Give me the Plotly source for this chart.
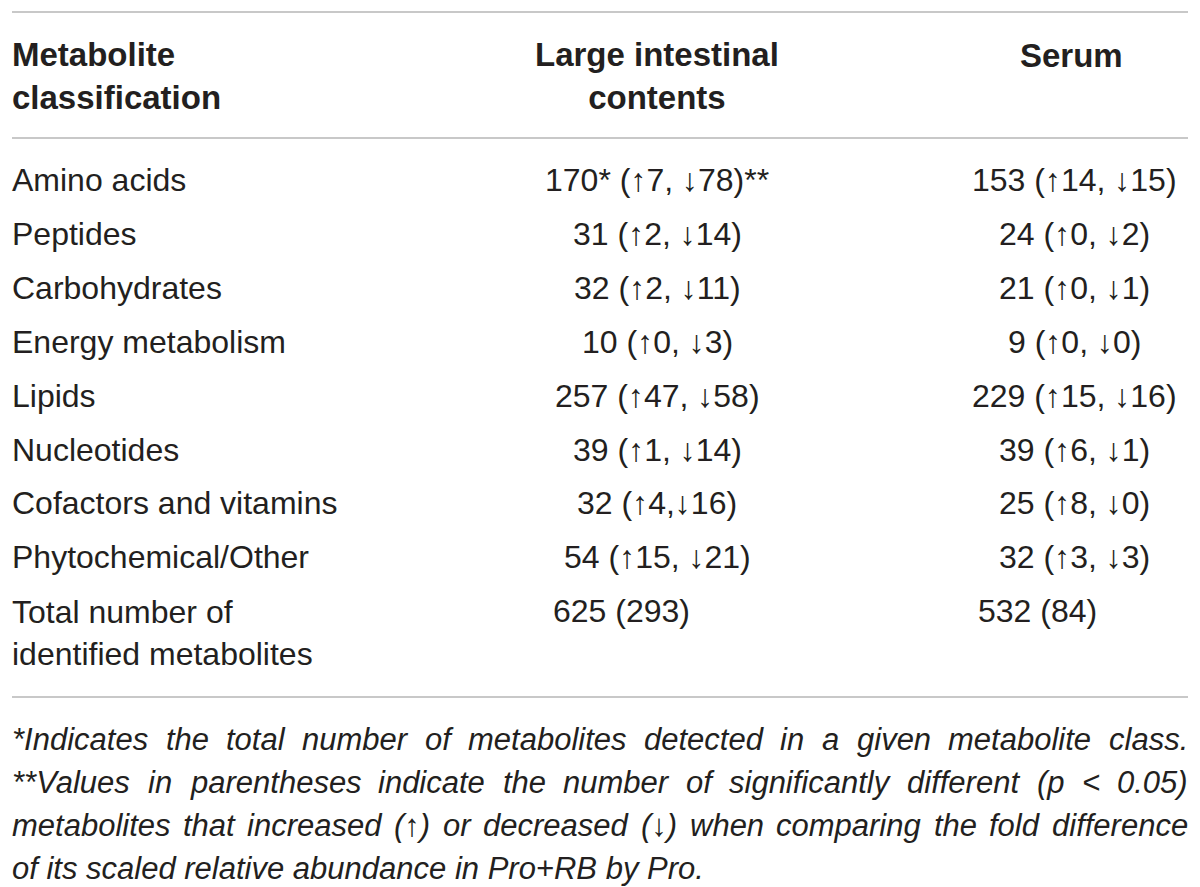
import plotly.graph_objects as go

# table content
header_cols = ["Metabolite<br>classification", "Large intestinal<br>contents", "Serum"]
classes = [
    "Amino acids",
    "Peptides",
    "Carbohydrates",
    "Energy metabolism",
    "Lipids",
    "Nucleotides",
    "Cofactors and vitamins",
    "Phytochemical/Other",
]
intestinal = [
    "170* (↑7, ↓78)**",
    "31 (↑2, ↓14)",
    "32 (↑2, ↓11)",
    "10 (↑0, ↓3)",
    "257 (↑47, ↓58)",
    "39 (↑1, ↓14)",
    "32 (↑4,↓16)",
    "54 (↑15, ↓21)",
]
serum = [
    "153 (↑14, ↓15)",
    "24 (↑0, ↓2)",
    "21 (↑0, ↓1)",
    "9 (↑0, ↓0)",
    "229 (↑15, ↓16)",
    "39 (↑6, ↓1)",
    "25 (↑8, ↓0)",
    "32 (↑3, ↓3)",
]
total_label = "Total number of<br>identified metabolites"
total_intestinal = "625 (293)"
total_serum = "532 (84)"
footnotes = [
    "*Indicates the total number of metabolites detected in a given metabolite class.",
    "**Values in parentheses indicate the number of significantly different (p < 0.05)",
    "metabolites that increased (↑) or decreased (↓) when comparing the fold difference",
    "of its scaled relative abundance in Pro+RB by Pro.",
]

W, H = 1200, 887
OFF = 8  # browser body margin
TXT = "#231f20"
RULE = "#c8c8c8"
FONT = "Liberation Sans, Arial, sans-serif"
FS = 32
FS_HEAD = 33
FS_NOTE = 31

X_LEFT, X_MID, X_RIGHT = 12, 657, 1074
X_END = 1188
ROW0, ROW_STEP = 180, 53.9
NOTE0, NOTE_STEP = 739, 43

# Arial advance widths (per 1000 em) used to justify the footnote lines
WIDTHS = {" ": 278, "(": 333, ")": 333, "*": 389, "+": 584, ",": 278, ".": 278,
          "<": 584, "↑": 500, "↓": 500, "I": 278, "V": 667, "P": 667, "R": 722,
          "B": 667, "c": 500, "f": 278, "i": 222, "j": 222, "k": 500, "l": 222,
          "m": 833, "r": 333, "s": 500, "t": 278, "v": 500, "w": 722, "x": 500,
          "y": 500, "z": 500}


def text_width(s, size):
    return sum(WIDTHS.get(ch, 556) for ch in s) * size / 1000.0


fig = go.Figure()
fig.add_trace(go.Scatter(x=[OFF, W], y=[OFF, H], mode="markers", marker=dict(opacity=0),
                         hoverinfo="skip", showlegend=False))

ann = []


def add_text(x, y, text, anchor="left", bold=False, italic=False, size=FS):
    t = text
    if bold:
        t = "<b>" + t + "</b>"
    if italic:
        t = "<i>" + t + "</i>"
    ann.append(dict(x=x, y=y, text=t, xref="x", yref="y", showarrow=False,
                    xanchor=anchor, yanchor="middle", align=anchor,
                    borderpad=0, borderwidth=0,
                    font=dict(family=FONT, size=size, color=TXT)))


# header
add_text(X_LEFT, 76, header_cols[0], "left", bold=True, size=FS_HEAD)
add_text(X_MID, 76, header_cols[1], "center", bold=True, size=FS_HEAD)
add_text(1071, 55, header_cols[2], "center", bold=True, size=FS_HEAD)

for i, name in enumerate(classes):
    y = ROW0 + i * ROW_STEP
    add_text(X_LEFT, y, name, "left")
    add_text(X_MID, y, intestinal[i], "center")
    add_text(X_RIGHT, y, serum[i], "center")

y_tot = ROW0 + len(classes) * ROW_STEP
add_text(X_LEFT, y_tot + 22, total_label, "left")
add_text(553, y_tot, total_intestinal, "left")
add_text(978, y_tot, total_serum, "left")

# footnotes: justified, last line left aligned
for j, line in enumerate(footnotes):
    y = NOTE0 + j * NOTE_STEP
    if j == len(footnotes) - 1:
        add_text(X_LEFT, y, line, "left", italic=True, size=FS_NOTE)
        continue
    words = line.split(" ")
    total = sum(text_width(w, FS_NOTE) for w in words)
    gap = (X_END - X_LEFT - total) / (len(words) - 1)
    x = X_LEFT
    for w in words:
        add_text(x, y, w, "left", italic=True, size=FS_NOTE)
        x += text_width(w, FS_NOTE) + gap

shapes = [dict(type="line", xref="x", yref="y", x0=X_LEFT, x1=X_END, y0=y0, y1=y0,
               line=dict(color=RULE, width=2)) for y0 in (12, 138, 697)]

fig.update_layout(
    width=W - OFF, height=H - OFF,
    margin=dict(l=0, r=0, t=0, b=0),
    paper_bgcolor="white", plot_bgcolor="white",
    xaxis=dict(range=[OFF, W], visible=False, fixedrange=True),
    yaxis=dict(range=[H, OFF], visible=False, fixedrange=True),
    annotations=ann, shapes=shapes,
)

fig.write_html("out.html")
